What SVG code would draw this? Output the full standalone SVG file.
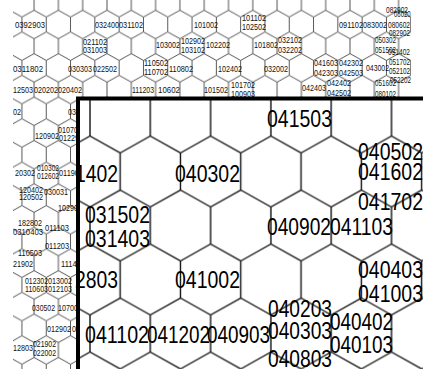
<svg xmlns="http://www.w3.org/2000/svg" width="423" height="369" viewBox="0 0 423 369">
<style>
.bt{font-family:"Liberation Sans",Arial,sans-serif;font-size:9.5px;fill:#111}
.it{font-family:"Liberation Sans",Arial,sans-serif;font-size:23.5px;fill:#000}
</style>
<defs>
<pattern id="hexS" patternUnits="userSpaceOnUse" x="9.8" y="24.5" width="24.3" height="43.4">
<path d="M12.15,0V7.45L0,14.25V29.15L12.15,35.95V43.4M12.15,7.45L24.3,14.25V29.15L12.15,35.95" fill="none" stroke="#444" stroke-width="0.9"/>
</pattern>
<pattern id="hexL" patternUnits="userSpaceOnUse" x="90" y="171.5" width="60.3" height="108">
<path d="M30.15,0V18.5L0,35.5V72.5L30.15,89.5V108M30.15,18.5L60.3,35.5V72.5L30.15,89.5" fill="none" stroke="#111" stroke-width="1.4"/>
</pattern>
<clipPath id="bgClip"><rect x="13" y="0" width="398" height="369"/></clipPath>
</defs>
<rect width="423" height="369" fill="#fff"/>
<g id="background-map" clip-path="url(#bgClip)">
<rect id="bg-grid" x="0" y="0" width="423" height="369" fill="url(#hexS)"/>
<g id="bg-labels" class="bt" lengthAdjust="spacingAndGlyphs">
<text x="15" y="28" textLength="30" lengthAdjust="spacingAndGlyphs">0392903</text>
<text x="95" y="28" textLength="24" lengthAdjust="spacingAndGlyphs">032400</text>
<text x="119" y="28" textLength="24" lengthAdjust="spacingAndGlyphs">031102</text>
<text x="83" y="45" textLength="24" lengthAdjust="spacingAndGlyphs">021102</text>
<text x="83" y="53" textLength="24" lengthAdjust="spacingAndGlyphs">031003</text>
<text x="13" y="72" textLength="30" lengthAdjust="spacingAndGlyphs">0311802</text>
<text x="68" y="72" textLength="24" lengthAdjust="spacingAndGlyphs">030303</text>
<text x="93" y="72" textLength="24" lengthAdjust="spacingAndGlyphs">022502</text>
<text x="13" y="93" textLength="20" lengthAdjust="spacingAndGlyphs">12503</text>
<text x="34" y="93" textLength="24" lengthAdjust="spacingAndGlyphs">020202</text>
<text x="58" y="93" textLength="24" lengthAdjust="spacingAndGlyphs">020402</text>
<text x="13" y="115" textLength="8" lengthAdjust="spacingAndGlyphs">02</text>
<text x="68" y="115" textLength="24" lengthAdjust="spacingAndGlyphs">030402</text>
<text x="132" y="93" textLength="22" lengthAdjust="spacingAndGlyphs">111203</text>
<text x="194" y="28" textLength="24" lengthAdjust="spacingAndGlyphs">101002</text>
<text x="242" y="21" textLength="24" lengthAdjust="spacingAndGlyphs">101102</text>
<text x="242" y="30" textLength="24" lengthAdjust="spacingAndGlyphs">102502</text>
<text x="156" y="48" textLength="24" lengthAdjust="spacingAndGlyphs">103002</text>
<text x="181" y="44" textLength="24" lengthAdjust="spacingAndGlyphs">102902</text>
<text x="181" y="53" textLength="24" lengthAdjust="spacingAndGlyphs">103102</text>
<text x="206" y="48" textLength="24" lengthAdjust="spacingAndGlyphs">102202</text>
<text x="254" y="48" textLength="24" lengthAdjust="spacingAndGlyphs">101802</text>
<text x="278" y="43" textLength="24" lengthAdjust="spacingAndGlyphs">032102</text>
<text x="278" y="53" textLength="24" lengthAdjust="spacingAndGlyphs">032202</text>
<text x="144" y="66" textLength="24" lengthAdjust="spacingAndGlyphs">110502</text>
<text x="144" y="75" textLength="24" lengthAdjust="spacingAndGlyphs">110702</text>
<text x="169" y="72" textLength="24" lengthAdjust="spacingAndGlyphs">110802</text>
<text x="218" y="72" textLength="24" lengthAdjust="spacingAndGlyphs">102402</text>
<text x="264" y="72" textLength="24" lengthAdjust="spacingAndGlyphs">032002</text>
<text x="158" y="93" textLength="22" lengthAdjust="spacingAndGlyphs">10602</text>
<text x="204" y="93" textLength="24" lengthAdjust="spacingAndGlyphs">101502</text>
<text x="231" y="88" textLength="24" lengthAdjust="spacingAndGlyphs">101702</text>
<text x="231" y="97" textLength="24" lengthAdjust="spacingAndGlyphs">100903</text>
<text x="386" y="13" textLength="22" lengthAdjust="spacingAndGlyphs">082902</text>
<text x="394" y="17" textLength="20" lengthAdjust="spacingAndGlyphs">080202</text>
<text x="339" y="28" textLength="24" lengthAdjust="spacingAndGlyphs">091102</text>
<text x="363" y="28" textLength="24" lengthAdjust="spacingAndGlyphs">083002</text>
<text x="388" y="28" textLength="22" lengthAdjust="spacingAndGlyphs">080602</text>
<text x="389" y="36" textLength="21" lengthAdjust="spacingAndGlyphs">082902</text>
<text x="375" y="43" textLength="21" lengthAdjust="spacingAndGlyphs">050302</text>
<text x="375" y="53" textLength="21" lengthAdjust="spacingAndGlyphs">051502</text>
<text x="388" y="55" textLength="22" lengthAdjust="spacingAndGlyphs">051402</text>
<text x="389" y="65" textLength="21" lengthAdjust="spacingAndGlyphs">051702</text>
<text x="389" y="74" textLength="21" lengthAdjust="spacingAndGlyphs">052102</text>
<text x="375" y="86" textLength="21" lengthAdjust="spacingAndGlyphs">051602</text>
<text x="390" y="83" textLength="21" lengthAdjust="spacingAndGlyphs">052202</text>
<text x="375" y="97" textLength="21" lengthAdjust="spacingAndGlyphs">080102</text>
<text x="314" y="66" textLength="24" lengthAdjust="spacingAndGlyphs">041603</text>
<text x="339" y="66" textLength="24" lengthAdjust="spacingAndGlyphs">042302</text>
<text x="314" y="76" textLength="24" lengthAdjust="spacingAndGlyphs">042303</text>
<text x="339" y="76" textLength="24" lengthAdjust="spacingAndGlyphs">042503</text>
<text x="366" y="71" textLength="23" lengthAdjust="spacingAndGlyphs">043002</text>
<text x="327" y="86" textLength="24" lengthAdjust="spacingAndGlyphs">042402</text>
<text x="327" y="96" textLength="24" lengthAdjust="spacingAndGlyphs">042502</text>
<text x="302" y="91" textLength="24" lengthAdjust="spacingAndGlyphs">042403</text>
<text x="35" y="139" textLength="24" lengthAdjust="spacingAndGlyphs">120902</text>
<text x="58" y="133" textLength="24" lengthAdjust="spacingAndGlyphs">010702</text>
<text x="59" y="141" textLength="24" lengthAdjust="spacingAndGlyphs">012290</text>
<text x="15" y="176" textLength="20" lengthAdjust="spacingAndGlyphs">20302</text>
<text x="37" y="171" textLength="22" lengthAdjust="spacingAndGlyphs">010302</text>
<text x="37" y="179" textLength="22" lengthAdjust="spacingAndGlyphs">012602</text>
<text x="59" y="176" textLength="24" lengthAdjust="spacingAndGlyphs">011902</text>
<text x="19" y="193" textLength="24" lengthAdjust="spacingAndGlyphs">120402</text>
<text x="19" y="200" textLength="24" lengthAdjust="spacingAndGlyphs">120502</text>
<text x="44" y="195" textLength="24" lengthAdjust="spacingAndGlyphs">030031</text>
<text x="58" y="211" textLength="24" lengthAdjust="spacingAndGlyphs">102902</text>
<text x="18" y="226" textLength="24" lengthAdjust="spacingAndGlyphs">182802</text>
<text x="13" y="235" textLength="30" lengthAdjust="spacingAndGlyphs">0310403</text>
<text x="45" y="231" textLength="24" lengthAdjust="spacingAndGlyphs">011103</text>
<text x="45" y="249" textLength="24" lengthAdjust="spacingAndGlyphs">011203</text>
<text x="18" y="256" textLength="24" lengthAdjust="spacingAndGlyphs">110503</text>
<text x="13" y="267" textLength="20" lengthAdjust="spacingAndGlyphs">21902</text>
<text x="61" y="267" textLength="24" lengthAdjust="spacingAndGlyphs">111402</text>
<text x="25" y="284" textLength="23" lengthAdjust="spacingAndGlyphs">012302</text>
<text x="48" y="284" textLength="24" lengthAdjust="spacingAndGlyphs">013002</text>
<text x="25" y="292" textLength="23" lengthAdjust="spacingAndGlyphs">110603</text>
<text x="48" y="292" textLength="24" lengthAdjust="spacingAndGlyphs">012103</text>
<text x="32" y="311" textLength="23" lengthAdjust="spacingAndGlyphs">030502</text>
<text x="58" y="311" textLength="24" lengthAdjust="spacingAndGlyphs">107002</text>
<text x="47" y="332" textLength="24" lengthAdjust="spacingAndGlyphs">012902</text>
<text x="72" y="332" textLength="24" lengthAdjust="spacingAndGlyphs">030302</text>
<text x="13" y="351" textLength="20" lengthAdjust="spacingAndGlyphs">12803</text>
<text x="33" y="347" textLength="23" lengthAdjust="spacingAndGlyphs">021902</text>
<text x="33" y="356" textLength="23" lengthAdjust="spacingAndGlyphs">022002</text>
</g>
</g>
<g id="inset">
<rect x="78" y="98.5" width="350" height="275" fill="#fff"/>
<rect id="inset-grid" x="78" y="98.5" width="350" height="275" fill="url(#hexL)"/>
<g id="inset-labels" class="it">
<text x="267" y="127" textLength="65" lengthAdjust="spacingAndGlyphs">041503</text>
<text x="75" y="182" textLength="43" lengthAdjust="spacingAndGlyphs">1402</text>
<text x="175" y="182" textLength="65" lengthAdjust="spacingAndGlyphs">040302</text>
<text x="358" y="160" textLength="65" lengthAdjust="spacingAndGlyphs">040502</text>
<text x="358" y="180" textLength="65" lengthAdjust="spacingAndGlyphs">041602</text>
<text x="358" y="210" textLength="65" lengthAdjust="spacingAndGlyphs">041702</text>
<text x="85" y="223" textLength="65" lengthAdjust="spacingAndGlyphs">031502</text>
<text x="85" y="247" textLength="65" lengthAdjust="spacingAndGlyphs">031403</text>
<text x="267" y="235" textLength="64" lengthAdjust="spacingAndGlyphs">040902</text>
<text x="330" y="235" textLength="63" lengthAdjust="spacingAndGlyphs">041103</text>
<text x="75" y="288" textLength="43" lengthAdjust="spacingAndGlyphs">2803</text>
<text x="175" y="288" textLength="65" lengthAdjust="spacingAndGlyphs">041002</text>
<text x="358" y="278" textLength="65" lengthAdjust="spacingAndGlyphs">040403</text>
<text x="358" y="302" textLength="65" lengthAdjust="spacingAndGlyphs">041003</text>
<text x="85" y="343" textLength="64" lengthAdjust="spacingAndGlyphs">041102</text>
<text x="147" y="343" textLength="63" lengthAdjust="spacingAndGlyphs">041202</text>
<text x="207" y="343" textLength="63" lengthAdjust="spacingAndGlyphs">040903</text>
<text x="268" y="317" textLength="64" lengthAdjust="spacingAndGlyphs">040203</text>
<text x="268" y="339" textLength="64" lengthAdjust="spacingAndGlyphs">040303</text>
<text x="268" y="367" textLength="64" lengthAdjust="spacingAndGlyphs">040803</text>
<text x="330" y="330" textLength="63" lengthAdjust="spacingAndGlyphs">040402</text>
<text x="330" y="353" textLength="63" lengthAdjust="spacingAndGlyphs">040103</text>
</g>
<rect id="inset-frame" x="78" y="98.5" width="350" height="275" fill="none" stroke="#000" stroke-width="4"/>
</g>
</svg>
